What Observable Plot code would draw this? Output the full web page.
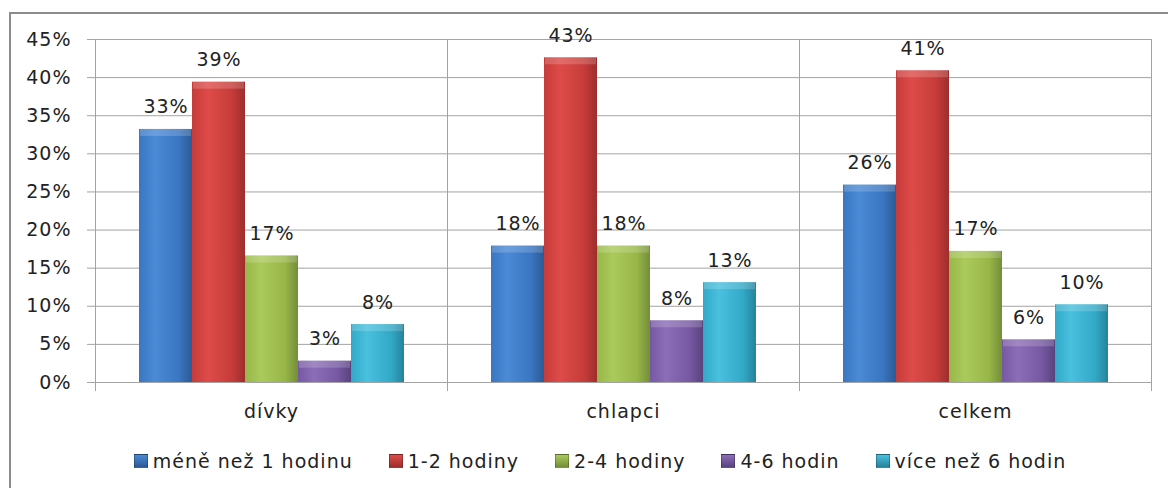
<!DOCTYPE html>
<html>
<head>
<meta charset="utf-8">
<script src="https://cdn.jsdelivr.net/npm/d3@7"></script>
<script src="https://cdn.jsdelivr.net/npm/@observablehq/plot@0.6"></script>
<style>
  body { margin: 0; background: #fff; font-family: "DejaVu Sans", sans-serif; }
  #wrap { position: relative; width: 1168px; height: 488px; overflow: hidden; }
  #border { position: absolute; left: 9px; top: 12px; width: 1300px; height: 600px;
            border-left: 2px solid #8c8c8c; border-top: 2px solid #8c8c8c; }
  #chart { position: relative; }
  #chart svg { display: block; }
  #chart svg text { letter-spacing: 1px; }
  #legend { margin-top: 15px; width: 1168px; box-sizing: border-box; padding-left: 32px;
            display: flex; justify-content: center; gap: 36px;
            font: 19px "DejaVu Sans", sans-serif; letter-spacing: 1px; line-height: 28px; color: #222; }
  .item { display: flex; align-items: center; white-space: nowrap; }
  .sw { width: 14px; height: 14px; margin-right: 5px; box-sizing: border-box; border: 1px solid rgba(0,0,0,0.25); }
</style>
</head>
<body>
<div id="wrap">
  <div id="border"></div>
  <div id="chart"></div>
  <div id="legend"></div>
</div>
<script>
const groups = ["dívky", "chlapci", "celkem"];
const series = ["méně než 1 hodinu", "1-2 hodiny", "2-4 hodiny", "4-6 hodin", "více než 6 hodin"];
const valuesDivky = [33.2, 39.4, 16.6, 2.8, 7.6];
const valuesChlapci = [17.9, 42.6, 17.9, 8.1, 13.1];
const valuesCelkem = [25.9, 40.9, 17.2, 5.6, 10.2];
const yTicks = [0, 5, 10, 15, 20, 25, 30, 35, 40, 45];
const seriesColors = [
  ["#4a8ad6", "#3a76c1", "#2c5a94"],
  ["#de4b48", "#c63c3a", "#9c2e2c"],
  ["#abca5c", "#98b748", "#748e38"],
  ["#8c6db8", "#7659a2", "#59437f"],
  ["#48c0de", "#33a9c8", "#25839c"]
];

const valueSets = [valuesDivky, valuesChlapci, valuesCelkem];
const data = groups.flatMap((g, gi) => series.map((s, si) => ({group: g, series: s, value: valueSets[gi][si]})));
const gradIds = series.map((s, i) => "grad" + i);

const gridColor = "#a3a3a3";

const plot = Plot.plot({
  width: 1168,
  height: 432,
  marginLeft: 95,
  marginRight: 17,
  marginTop: 39,
  marginBottom: 50,
  style: {fontFamily: "DejaVu Sans, sans-serif", fontSize: "19px", color: "#222", background: "transparent", overflow: "visible"},
  fx: {domain: groups, padding: 0, label: null, tickSize: 0, tickPadding: 22},
  x: {domain: series, paddingInner: 0, paddingOuter: 0.76, axis: null},
  y: {domain: [0, 45], label: null, axis: null},
  color: {type: "ordinal", domain: series, range: gradIds.map(id => `url(#${id})`)},
  marks: [
    Plot.gridY(yTicks, {stroke: gridColor, strokeOpacity: 1}),
    Plot.frame({anchor: "left", stroke: gridColor, strokeOpacity: 1, insetBottom: -8}),
    Plot.frame({anchor: "right", stroke: gridColor, strokeOpacity: 1, insetBottom: -8}),
    Plot.axisY(yTicks, {tickSize: 8, tickPadding: 16, tickFormat: d => d + "%", stroke: gridColor, fill: "#222", label: null}),
    Plot.barY(data, {fx: "group", x: "series", y: "value", fill: "series"}),
    // top bevel highlight on each bar
    Plot.barY(data, {fx: "group", x: "series", y1: "value", y2: "value", insetBottom: -7, insetLeft: 1, insetRight: 1, fill: "#ffffff", fillOpacity: 0.18}),
    Plot.text(data, {fx: "group", x: "series", y: "value", text: d => Math.round(d.value) + "%", lineAnchor: "bottom", dy: -16, fill: "#222"})
  ]
});

const svg = d3.select(plot);
const defs = svg.insert("defs", ":first-child");
series.forEach((s, i) => {
  const g = defs.append("linearGradient").attr("id", gradIds[i]).attr("x1", 0).attr("x2", 1).attr("y1", 0).attr("y2", 0);
  g.append("stop").attr("offset", "0%").attr("stop-color", seriesColors[i][1]);
  g.append("stop").attr("offset", "30%").attr("stop-color", seriesColors[i][0]);
  g.append("stop").attr("offset", "75%").attr("stop-color", seriesColors[i][1]);
  g.append("stop").attr("offset", "100%").attr("stop-color", seriesColors[i][2]);
});

document.getElementById("chart").appendChild(plot);

const legend = d3.select("#legend");
series.forEach((s, i) => {
  const item = legend.append("div").attr("class", "item");
  item.append("span").attr("class", "sw")
    .style("background", `linear-gradient(180deg, ${seriesColors[i][0]}, ${seriesColors[i][2]})`);
  item.append("span").text(s);
});
</script>
</body>
</html>
